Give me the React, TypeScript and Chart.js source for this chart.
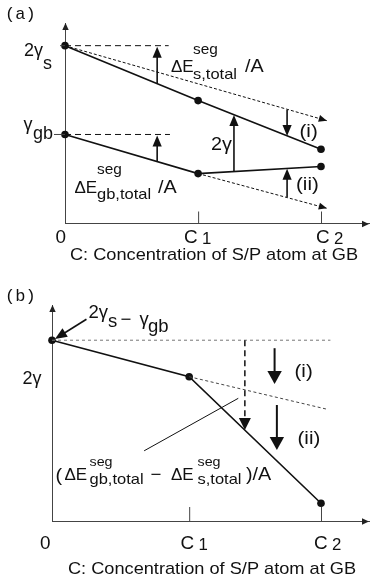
import React, { useEffect, useRef } from "react";
import { Chart, registerables } from "chart.js";
Chart.register(...registerables);

// ---------------- data ----------------
// x positions of the categories 0, C1, C2 (panel a / panel b)
const catsA = [0, 1.04, 2];
const catsB = [0, 1.02, 2];
const tickMain = ["0", "C", "C"];
const tickSub = ["", "1", "2"];

// panel (a): 2γs line and γgb line
const surfA = [88.7, 61.3, 37.0];
const gbA = [44.4, 24.9, 28.4];
// dotted reference (no change of slope) lines in (a)
const surfRefX = [0, 2.045];
const surfRefY = [88.7, 51.3];
const gbRefX = [1.04, 2.045];
const gbRefY = [24.9, 7.6];
// dashed horizontal levels in (a)
const levelX = [[0, 0.81], [0, 0.82]];
const levelY = [88.7, 44.4];
// arrows in (a): [x, from, to]
const arrowsA = [
  [0.72, 69.7, 88.2],
  [0.72, 30.9, 43.9],
  [1.32, 25.9, 54.1],
  [1.735, 56.6, 43.6],
  [1.735, 13.2, 27.3],
];

// panel (b): 2γ line
const twoGammaB = [83.7, 66.8, 8.2];
const levelBX = [0, 2.07];
const extBX = [1.02, 2.048];
const extBY = [66.8, 51.7];
const dashArrowB = [1.434, 83.7, 42.1];
const arrowsB = [
  [1.655, 80.0, 63.4],
  [1.672, 53.7, 32.9],
];
const leaderB = [0.685, 32.5, 1.385, 56.8];
const labelArrowB = [0.256, 93.4, 0.022, 84.3];

// ---------------- helpers ----------------
const SANS = '"Liberation Sans", Arial, Helvetica, sans-serif';
const MONO = '"Liberation Mono", "Courier New", monospace';
type Seg = { t: string; x?: number; y: number; size: number; mono?: boolean; sx?: number };

function drawText(ctx: CanvasRenderingContext2D, segs: Seg[], sxAll = 1) {
  let cx = 0;
  for (const s of segs) {
    const sx = s.sx ?? sxAll;
    ctx.font = `${s.size}px ${s.mono ? MONO : SANS}`;
    const x = s.x !== undefined ? s.x : cx;
    ctx.save();
    ctx.translate(x, s.y);
    ctx.scale(sx, 1);
    ctx.fillText(s.t, 0, 0);
    ctx.restore();
    cx = x + ctx.measureText(s.t).width * sx;
  }
}

function head(ctx: CanvasRenderingContext2D, x0: number, y0: number, x1: number, y1: number, len: number, half: number) {
  const a = Math.atan2(y1 - y0, x1 - x0);
  const c = Math.cos(a), s = Math.sin(a);
  ctx.beginPath();
  ctx.moveTo(x1, y1);
  ctx.lineTo(x1 - len * c + half * s, y1 - len * s - half * c);
  ctx.lineTo(x1 - len * c - half * s, y1 - len * s + half * c);
  ctx.closePath();
  ctx.fill();
}

function arrow(
  ctx: CanvasRenderingContext2D,
  x0: number, y0: number, x1: number, y1: number,
  len: number, half: number, width: number, dash: number[] = []
) {
  const a = Math.atan2(y1 - y0, x1 - x0);
  const bx = x1 - len * 0.7 * Math.cos(a);
  const by = y1 - len * 0.7 * Math.sin(a);
  ctx.save();
  ctx.lineWidth = width;
  ctx.setLineDash(dash);
  ctx.beginPath();
  ctx.moveTo(x0, y0);
  ctx.lineTo(bx, by);
  ctx.stroke();
  ctx.setLineDash([]);
  head(ctx, x0, y0, x1, y1, len, half);
  ctx.restore();
}

function line(ctx: CanvasRenderingContext2D, x0: number, y0: number, x1: number, y1: number, w: number, color: string) {
  ctx.save();
  ctx.strokeStyle = color;
  ctx.lineWidth = w;
  ctx.beginPath();
  ctx.moveTo(x0, y0);
  ctx.lineTo(x1, y1);
  ctx.stroke();
  ctx.restore();
}

const pts = (xs: number[], ys: number[]) => xs.map((x, i) => ({ x, y: ys[i] }));

function baseOptions(xMax: number, padding: any) {
  const axis = (max: number) => ({
    type: "linear" as const,
    min: 0,
    max,
    display: true,
    grid: { display: false, drawTicks: false },
    ticks: { display: false },
    border: { display: true, color: "#444", width: 1 },
  });
  return {
    animation: false as const,
    responsive: false,
    maintainAspectRatio: false,
    events: [] as any[],
    layout: { padding },
    plugins: { legend: { display: false }, tooltip: { enabled: false } },
    scales: { x: axis(xMax), y: axis(100) },
  };
}

const solid = (data: any[], radius: number) => ({
  data,
  showLine: true,
  borderColor: "#111",
  backgroundColor: "#111",
  borderWidth: 1.6,
  pointRadius: radius,
  pointBackgroundColor: "#111",
  pointBorderWidth: 0,
  clip: false as const,
});
const styled = (data: any[], dash: number[], color: string, width = 1) => ({
  data,
  showLine: true,
  borderColor: color,
  borderWidth: width,
  borderDash: dash,
  pointRadius: 0,
  clip: false as const,
});

function axisArrows(ctx: CanvasRenderingContext2D, ca: any) {
  ctx.fillStyle = "#222";
  head(ctx, ca.left + 0.5, ca.top + 10, ca.left + 0.5, ca.top, 7, 3.2);
  head(ctx, ca.right - 10, ca.bottom + 0.5, ca.right, ca.bottom + 0.5, 7, 3.2);
}

function caption(ctx: CanvasRenderingContext2D, cx: number, y: number) {
  const sx = 1.07;
  ctx.font = `17px ${SANS}`;
  const cap = "C: Concentration of S/P atom at GB";
  const w = ctx.measureText(cap).width * sx;
  drawText(ctx, [{ t: cap, x: cx - w / 2, y, size: 17 }], sx);
}

function tickLabels(ctx: CanvasRenderingContext2D, xs: number[], y: number) {
  tickMain.forEach((t, i) => {
    drawText(ctx, [{ t, x: xs[i], y, size: 18 }], 1.05);
    if (tickSub[i]) drawText(ctx, [{ t: tickSub[i], x: xs[i] + 18, y: y + 1.5, size: 16 }], 1.05);
  });
}

// ---------------- panel (a) ----------------
function makeA(canvas: HTMLCanvasElement, top: number) {
  const plugin = {
    id: "annotA",
    afterDatasetsDraw(chart: any) {
      const ctx: CanvasRenderingContext2D = chart.ctx;
      const xs = chart.scales.x, ys = chart.scales.y;
      const X = (v: number) => xs.getPixelForValue(v);
      const Y = (v: number) => ys.getPixelForValue(v);
      const ca = chart.chartArea;
      ctx.save();
      axisArrows(ctx, ca);
      // y ticks
      line(ctx, ca.left - 5, Y(surfA[0]), ca.left, Y(surfA[0]), 1, "#444");
      line(ctx, ca.left - 11, Y(gbA[0]), ca.left, Y(gbA[0]), 1, "#444");
      // x ticks (inside)
      for (let i = 1; i < catsA.length; i++) line(ctx, X(catsA[i]) + 0.5, ca.bottom, X(catsA[i]) + 0.5, ca.bottom - 12, 1, "#444");
      // dotted line arrow heads
      ctx.fillStyle = "#111";
      head(ctx, X(surfRefX[0]), Y(surfRefY[0]), X(surfRefX[1]), Y(surfRefY[1]), 8, 3.5);
      head(ctx, X(gbRefX[0]), Y(gbRefY[0]), X(gbRefX[1]), Y(gbRefY[1]), 8, 3.5);
      // arrows
      ctx.strokeStyle = "#111";
      for (const [x, a, b] of arrowsA) arrow(ctx, X(x), Y(a), X(x), Y(b), 11, 4.6, 1.6);
      // texts (page coords)
      ctx.translate(0, -top);
      ctx.fillStyle = "#111";
      drawText(ctx, [{ t: "(a)", x: 5, y: 19, size: 17, mono: true }]);
      drawText(ctx, [{ t: "2γ", x: 24, y: 56, size: 18 }, { t: "s", y: 68.5, size: 18 }]);
      drawText(ctx, [{ t: "γ", x: 23.5, y: 130, size: 18 }, { t: "gb", x: 33, y: 139, size: 18 }]);
      drawText(ctx, [
        { t: "ΔE", x: 171, y: 71.5, size: 17, sx: 1 },
        { t: "seg", x: 193, y: 54, size: 14 },
        { t: "s,total", x: 193, y: 79, size: 15 },
        { t: "/A", x: 245, y: 71.5, size: 18 },
      ], 1.1);
      drawText(ctx, [
        { t: "ΔE", x: 74.5, y: 193, size: 17, sx: 1 },
        { t: "seg", x: 97, y: 173.5, size: 14 },
        { t: "gb,total", x: 97, y: 199, size: 15 },
        { t: "/A", x: 158, y: 193, size: 18 },
      ], 1.1);
      drawText(ctx, [{ t: "2γ", x: 211, y: 150, size: 18 }], 1.1);
      drawText(ctx, [{ t: "(i)", x: 299.5, y: 136.5, size: 19 }], 1.08);
      drawText(ctx, [{ t: "(ii)", x: 296, y: 190, size: 19 }], 1.08);
      tickLabels(ctx, [55.5, 184, 316], 242.5);
      caption(ctx, 214, 259.5);
      ctx.restore();
    },
  };
  return new Chart(canvas, {
    type: "scatter",
    data: {
      datasets: [
        styled(pts(surfRefX, surfRefY), [3, 2], "#111"),
        styled(pts(gbRefX, gbRefY), [3, 2], "#111"),
        styled(pts(levelX[0], [levelY[0], levelY[0]]), [6, 4], "#111"),
        styled(pts(levelX[1], [levelY[1], levelY[1]]), [6, 4], "#111"),
        solid(pts(catsA, surfA), 3.8),
        solid(pts(catsA, gbA), 3.8),
      ],
    },
    options: baseOptions(2.375, { left: 65, right: 1, top: 23, bottom: 60.5 }) as any,
    plugins: [plugin],
  });
}

// ---------------- panel (b) ----------------
function makeB(canvas: HTMLCanvasElement, top: number) {
  const plugin = {
    id: "annotB",
    afterDatasetsDraw(chart: any) {
      const ctx: CanvasRenderingContext2D = chart.ctx;
      const xs = chart.scales.x, ys = chart.scales.y;
      const X = (v: number) => xs.getPixelForValue(v);
      const Y = (v: number) => ys.getPixelForValue(v);
      const ca = chart.chartArea;
      ctx.save();
      axisArrows(ctx, ca);
      for (let i = 1; i < catsB.length; i++) line(ctx, X(catsB[i]) + 0.5, ca.bottom, X(catsB[i]) + 0.5, ca.bottom - 14, 1, "#444");
      ctx.fillStyle = "#111";
      ctx.strokeStyle = "#111";
      // dashed vertical arrow
      arrow(ctx, X(dashArrowB[0]), Y(dashArrowB[1]), X(dashArrowB[0]), Y(dashArrowB[2]), 12, 6, 1.5, [6, 4]);
      for (const [x, a, b] of arrowsB) arrow(ctx, X(x), Y(a), X(x), Y(b), 13, 7.2, 2);
      // leader line
      line(ctx, X(leaderB[0]), Y(leaderB[1]), X(leaderB[2]), Y(leaderB[3]), 1, "#111");
      // label arrow
      ctx.strokeStyle = "#111";
      arrow(ctx, X(labelArrowB[0]), Y(labelArrowB[1]), X(labelArrowB[2]), Y(labelArrowB[3]), 12, 5, 1.6);
      // texts (page coords)
      ctx.translate(0, -top);
      ctx.fillStyle = "#111";
      drawText(ctx, [{ t: "(b)", x: 5, y: 301, size: 17, mono: true }]);
      drawText(ctx, [
        { t: "2γ", x: 88.5, y: 318, size: 18 },
        { t: "s", y: 326.5, size: 18 },
        { t: "−", x: 120.5, y: 325, size: 18 },
        { t: "γ", x: 139.5, y: 325, size: 18 },
        { t: "gb", x: 148, y: 331.5, size: 18 },
      ], 1.03);
      drawText(ctx, [{ t: "2γ", x: 22.5, y: 384, size: 18 }]);
      drawText(ctx, [{ t: "(i)", x: 294.5, y: 377, size: 19 }], 1.08);
      drawText(ctx, [{ t: "(ii)", x: 297.5, y: 443.5, size: 19 }], 1.08);
      drawText(ctx, [
        { t: "(", x: 55.5, y: 481, size: 18 },
        { t: "ΔE", x: 64.5, y: 480, size: 17, sx: 1 },
        { t: "seg", x: 89.5, y: 466, size: 13 },
        { t: "gb,total", x: 89.5, y: 484, size: 15 },
        { t: "−", x: 150.5, y: 480, size: 17 },
        { t: "ΔE", x: 171, y: 480, size: 17, sx: 1 },
        { t: "seg", x: 197.5, y: 466, size: 13 },
        { t: "s,total", x: 197.5, y: 484, size: 15 },
        { t: ")/A", x: 246, y: 480, size: 18 },
      ], 1.1);
      tickLabels(ctx, [40, 180.5, 314], 548.5);
      caption(ctx, 212, 574);
      ctx.restore();
    },
  };
  return new Chart(canvas, {
    type: "scatter",
    data: {
      datasets: [
        styled(pts(levelBX, [twoGammaB[0], twoGammaB[0]]), [3, 3], "#777"),
        styled(pts(extBX, extBY), [3, 2.5], "#444"),
        solid(pts(catsB, twoGammaB), 3.8),
      ],
    },
    options: baseOptions(2.357, { left: 52, right: 1, top: 21, bottom: 57 }) as any,
    plugins: [plugin],
  });
}

export default function App() {
  const refA = useRef<HTMLCanvasElement>(null);
  const refB = useRef<HTMLCanvasElement>(null);
  useEffect(() => {
    const a = makeA(refA.current!, 0);
    const b = makeB(refB.current!, 284);
    return () => {
      a.destroy();
      b.destroy();
    };
  }, []);
  return (
    <div style={{ position: "absolute", left: 0, top: 0, width: 373, height: 578, background: "#fff" }}>
      <canvas ref={refA} width={373} height={284} style={{ position: "absolute", left: 0, top: 0, width: 373, height: 284 }} />
      <canvas ref={refB} width={373} height={294} style={{ position: "absolute", left: 0, top: 284, width: 373, height: 294 }} />
    </div>
  );
}
